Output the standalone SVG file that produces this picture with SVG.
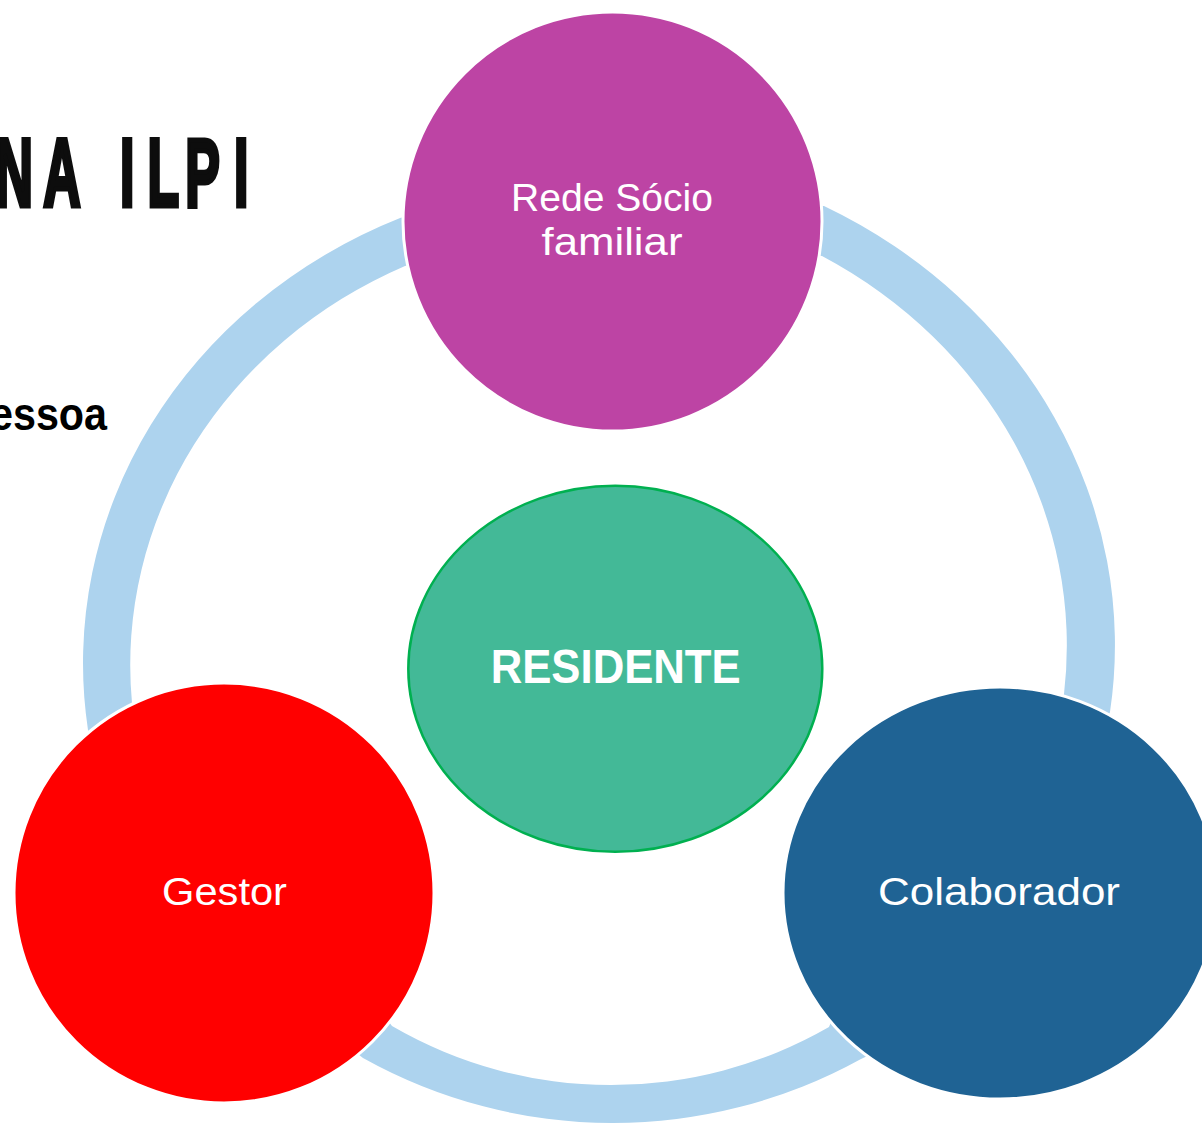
<svg xmlns="http://www.w3.org/2000/svg" width="1202" height="1125" viewBox="0 0 1202 1125">
<style>
.ring{fill:#ADD3EE;stroke:none}
.node{stroke:#FFFFFF;stroke-width:3}
.lbl{font-family:"Liberation Sans",Arial,sans-serif;fill:#FFFFFF;font-size:38px;text-anchor:middle}
.title{font-family:"Liberation Sans",Arial,sans-serif;font-weight:bold;fill:#0D0D0D;stroke:#0D0D0D;stroke-width:5;stroke-linejoin:miter}
</style>
<rect width="1202" height="1125" fill="#FFFFFF"/>
<text class="title" transform="scale(0.54 1)" x="-8.4 80.1 190 222.1 273.1 343.2 433.3" y="206.5" font-size="96">NA ILPI</text>
<text x="-10" y="430" font-family="'Liberation Sans',Arial,sans-serif" font-weight="bold" font-size="46" fill="#000000" textLength="117" lengthAdjust="spacingAndGlyphs">essoa</text>
<g id="connectors">
<path class="ring" d="M 420,215 L 400.7,217.7 A 525 485 0 0 0 88,730 L 100,760 L 140,715 L 132,703 A 475 440 0 0 1 405,266 L 425,262 Z"/>
<path class="ring" d="M 805,205 L 824,206 A 540 495 0 0 1 1110,712 L 1100,740 L 1060,720 L 1064,694 A 490 450 0 0 0 822,256 L 805,255 Z"/>
<path class="ring" d="M 340,1040 L 363,1058 A 513 513 0 0 0 861,1059 L 880,1050 L 840,1000 L 829,1027 A 437 437 0 0 1 392,1026 L 380,1010 Z"/>
</g>
<g id="node-rede">
<circle class="node" cx="612.5" cy="221.5" r="209.5" fill="#BD44A4"/>
<text class="lbl" x="612" y="211" textLength="202" lengthAdjust="spacingAndGlyphs">Rede Sócio</text>
<text class="lbl" x="612" y="255" textLength="141" lengthAdjust="spacingAndGlyphs">familiar</text>
</g>
<g id="node-gestor">
<circle class="node" cx="224" cy="893" r="210" fill="#FF0000"/>
<text class="lbl" x="224.5" y="905" textLength="125" lengthAdjust="spacingAndGlyphs">Gestor</text>
</g>
<g id="node-colaborador">
<ellipse class="node" cx="1000" cy="893" rx="217" ry="206" fill="#1F6394"/>
<text class="lbl" x="999" y="905" textLength="242" lengthAdjust="spacingAndGlyphs">Colaborador</text>
</g>
<g id="node-residente">
<ellipse cx="615.3" cy="668.8" rx="207" ry="183" fill="#43B997" stroke="#00B050" stroke-width="2.5"/>
<text x="615.7" y="683" font-family="'Liberation Sans',Arial,sans-serif" font-weight="bold" font-size="48" fill="#FFFFFF" text-anchor="middle" textLength="250" lengthAdjust="spacingAndGlyphs">RESIDENTE</text>
</g>
</svg>
